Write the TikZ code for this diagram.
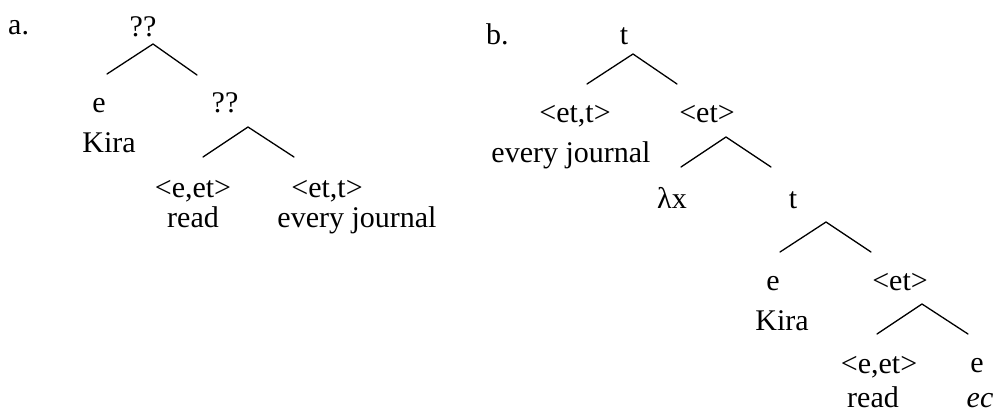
\documentclass[tikz,border=0pt]{standalone}
\usepackage{fontspec}
\setmainfont{Liberation Serif}
\begin{document}
\begin{tikzpicture}[x=1pt,y=-1pt,
  lab/.style={anchor=base,inner sep=0pt,font=\fontsize{30}{32}\selectfont},
  branch/.style={line width=1.3pt,line cap=round,line join=round}]
\useasboundingbox (0,0) rectangle (999,412);
% ---- tree a ----
\node[lab,anchor=base west] (la) at (8,35) {a.};
\node[lab] (a0) at (143,37) {??};
\node[lab] (a1) at (99,113) {e};
\node[lab] (a1w) at (109,152) {Kira};
\node[lab] (a2) at (225,113) {??};
\node[lab] (a3) at (193,197) {<e,et>};
\node[lab] (a3w) at (193,227) {read};
\node[lab] (a4) at (327,197) {<et,t>};
\node[lab] (a4w) at (357,227) {every journal};
\coordinate (a0t) at (153,44); \coordinate (a0l) at (107,74); \coordinate (a0r) at (197,75);
\coordinate (a2t) at (248,127); \coordinate (a2l) at (203,157); \coordinate (a2r) at (294,157);
\draw[branch] (a0l) -- (a0t) -- (a0r);
\draw[branch] (a2l) -- (a2t) -- (a2r);
% ---- tree b ----
\node[lab,anchor=base west] (lb) at (486,45) {b.};
\node[lab] (b0) at (624,45) {t};
\node[lab] (b1) at (575,122) {<et,t>};
\node[lab] (b1w) at (571,162) {every journal};
\node[lab] (b2) at (707,122) {<et>};
\node[lab] (b3) at (672,208) {λx};
\node[lab] (b4) at (793,208) {t};
\node[lab] (b5) at (773,290) {e};
\node[lab] (b5w) at (782,330) {Kira};
\node[lab] (b6) at (900,290) {<et>};
\node[lab] (b7) at (879,373) {<e,et>};
\node[lab] (b7w) at (873,407) {read};
\node[lab] (b8) at (977,372) {e};
\node[lab] (b8w) at (980,407) {\itshape ec};
\coordinate (b0t) at (633,54); \coordinate (b0l) at (587,84); \coordinate (b0r) at (677,84);
\coordinate (b2t) at (726,137); \coordinate (b2l) at (681,167); \coordinate (b2r) at (771,167);
\coordinate (b4t) at (826,222); \coordinate (b4l) at (780,252); \coordinate (b4r) at (871,252);
\coordinate (b6t) at (922,304); \coordinate (b6l) at (877,334); \coordinate (b6r) at (968,334);
\draw[branch] (b0l) -- (b0t) -- (b0r);
\draw[branch] (b2l) -- (b2t) -- (b2r);
\draw[branch] (b4l) -- (b4t) -- (b4r);
\draw[branch] (b6l) -- (b6t) -- (b6r);
\end{tikzpicture}
\end{document}
